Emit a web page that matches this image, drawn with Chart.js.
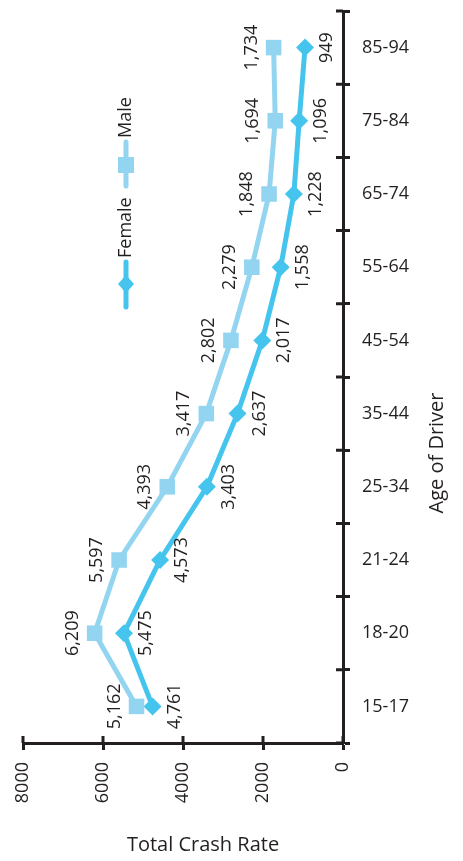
<!DOCTYPE html>
<html>
<head>
<meta charset="utf-8">
<title>Total Crash Rate by Age of Driver</title>
<script src="https://cdn.jsdelivr.net/npm/chart.js"></script>
<style>
  html, body { margin: 0; padding: 0; background: #fff; }
  #wrap { width: 463px; height: 861px; }
</style>
</head>
<body>
<div id="wrap"><canvas id="myChart" width="463" height="861"></canvas></div>
<script>
// data
const ageGroups = ['15-17', '18-20', '21-24', '25-34', '35-44', '45-54', '55-64', '65-74', '75-84', '85-94'];
const maleRates = [5162, 6209, 5597, 4393, 3417, 2802, 2279, 1848, 1694, 1734];
const femaleRates = [4761, 5475, 4573, 3403, 2637, 2017, 1558, 1228, 1096, 949];
const rateTicks = [0, 2000, 4000, 6000, 8000];

const ink = '#231f20';
const maleColor = '#93d5f0';
const femaleColor = '#45c4ee';
const fontFamily = '"Open Sans", "Noto Sans", sans-serif';

// rotated value labels next to each point (male to the left, female to the right)
const pointLabels = {
  id: 'pointLabels',
  afterDatasetsDraw(chart) {
    const ctx = chart.ctx;
    chart.data.datasets.forEach((ds, i) => {
      const meta = chart.getDatasetMeta(i);
      const side = i === 0 ? -1 : 1;
      meta.data.forEach((pt, j) => {
        ctx.save();
        ctx.translate(pt.x + side * 13, pt.y);
        ctx.rotate(-Math.PI / 2);
        ctx.font = '18px ' + fontFamily;
        ctx.fillStyle = ink;
        ctx.textAlign = 'center';
        ctx.textBaseline = side < 0 ? 'bottom' : 'top';
        ctx.fillText(ds.data[j].toLocaleString('en-US'), 0, 0);
        ctx.restore();
      });
    });
  }
};

// inward half of the axis tick marks, titles and the rotated legend
const extras = {
  id: 'extras',
  afterDraw(chart) {
    const ctx = chart.ctx;
    const x = chart.scales.x;
    const y = chart.scales.y;
    const area = chart.chartArea;
    ctx.save();
    ctx.strokeStyle = ink;
    ctx.lineWidth = 3;
    ctx.beginPath();
    rateTicks.forEach(v => {
      const px = x.getPixelForValue(v);
      ctx.moveTo(px, area.bottom);
      ctx.lineTo(px, area.bottom - 7);
    });
    for (let i = 0; i <= ageGroups.length; i++) {
      const py = y.getPixelForValue(i - 0.5);
      ctx.moveTo(area.right, py);
      ctx.lineTo(area.right - 7, py);
    }
    ctx.stroke();

    // axis titles
    ctx.fillStyle = ink;
    ctx.font = '20px ' + fontFamily;
    ctx.textAlign = 'center';
    ctx.textBaseline = 'middle';
    ctx.fillText('Total Crash Rate', 203, 845);
    ctx.save();
    ctx.translate(437, 453);
    ctx.rotate(-Math.PI / 2);
    ctx.fillText('Age of Driver', 0, 0);
    ctx.restore();

    // legend
    const items = [
      { label: chart.data.datasets[0].label, color: maleColor, shape: 'rect', top: 142, mid: 165, bottom: 186 },
      { label: chart.data.datasets[1].label, color: femaleColor, shape: 'rectRot', top: 262, mid: 284, bottom: 307 }
    ];
    const lx = 126;
    items.forEach(it => {
      ctx.strokeStyle = it.color;
      ctx.fillStyle = it.color;
      ctx.lineWidth = 5;
      ctx.lineCap = 'round';
      ctx.beginPath();
      ctx.moveTo(lx, it.top);
      ctx.lineTo(lx, it.bottom);
      ctx.stroke();
      ctx.beginPath();
      if (it.shape === 'rect') {
        ctx.rect(lx - 8, it.mid - 8, 16, 16);
      } else {
        ctx.moveTo(lx, it.mid - 9);
        ctx.lineTo(lx + 8, it.mid);
        ctx.lineTo(lx, it.mid + 9);
        ctx.lineTo(lx - 8, it.mid);
        ctx.closePath();
      }
      ctx.fill();
      ctx.save();
      ctx.translate(lx, it.top - 4);
      ctx.rotate(-Math.PI / 2);
      ctx.fillStyle = ink;
      ctx.font = '18px ' + fontFamily;
      ctx.textAlign = 'left';
      ctx.textBaseline = 'middle';
      ctx.fillText(it.label, 0, 0);
      ctx.restore();
    });
    ctx.restore();
  }
};

const ctx = document.getElementById('myChart').getContext('2d');
const myChart = new Chart(ctx, {
  type: 'line',
  data: {
    labels: ageGroups,
    datasets: [{
      label: 'Male',
      data: maleRates,
      borderColor: maleColor,
      backgroundColor: maleColor,
      borderWidth: 5,
      pointStyle: 'rect',
      pointRadius: 11,
      pointBorderWidth: 0,
      pointBackgroundColor: maleColor
    }, {
      label: 'Female',
      data: femaleRates,
      borderColor: femaleColor,
      backgroundColor: femaleColor,
      borderWidth: 5,
      pointStyle: 'rectRot',
      pointRadius: 9,
      pointBorderWidth: 0,
      pointBackgroundColor: femaleColor
    }]
  },
  options: {
    indexAxis: 'y',
    responsive: false,
    animation: false,
    devicePixelRatio: 1,
    layout: { padding: { top: 7, left: 23, right: 0, bottom: 0 } },
    plugins: {
      legend: { display: false },
      tooltip: { enabled: false }
    },
    scales: {
      x: {
        type: 'linear',
        position: 'bottom',
        reverse: true,
        min: 0,
        max: 8000,
        afterFit: scale => {
          scale.height = 118;
          scale.paddingLeft = 0;
          scale.paddingRight = 0;
        },
        afterBuildTicks: scale => { scale.ticks = rateTicks.map(v => ({ value: v })); },
        border: { color: ink, width: 3 },
        grid: { drawOnChartArea: false, drawTicks: true, tickLength: 7, tickWidth: 3, tickColor: ink },
        ticks: {
          minRotation: 90,
          maxRotation: 90,
          padding: 12,
          color: ink,
          font: { family: fontFamily, size: 18 },
          callback: v => String(v)
        }
      },
      y: {
        type: 'category',
        position: 'right',
        reverse: true,
        offset: true,
        afterFit: scale => {
          scale.width = 120;
          scale.paddingTop = 0;
          scale.paddingBottom = 0;
        },
        border: { color: ink, width: 3 },
        grid: { offset: true, drawOnChartArea: false, drawTicks: true, tickLength: 7, tickWidth: 3, tickColor: ink },
        ticks: {
          padding: 12,
          color: ink,
          font: { family: fontFamily, size: 18 }
        }
      }
    }
  },
  plugins: [pointLabels, extras]
});
</script>
</body>
</html>
